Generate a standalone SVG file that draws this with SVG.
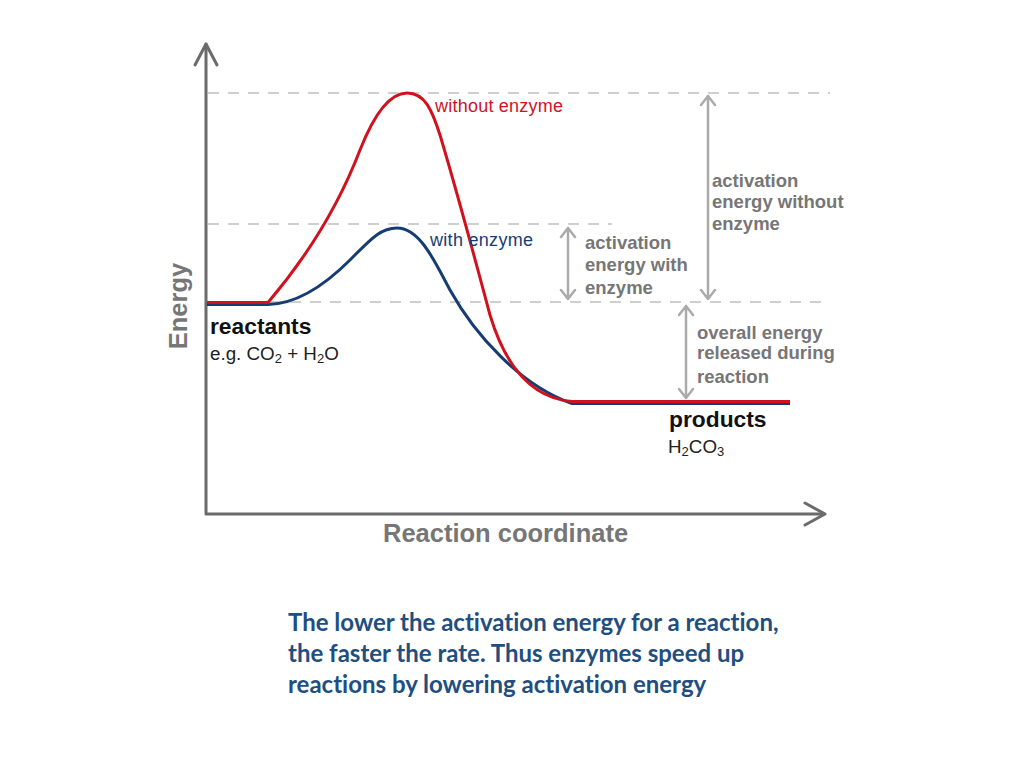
<svg xmlns="http://www.w3.org/2000/svg" width="1024" height="768" viewBox="0 0 1024 768">
<defs>
<style>
.axis{stroke:#6b6b6b;stroke-width:3;fill:none;stroke-linecap:round;stroke-linejoin:round}
.dash{stroke:#cfcfcf;stroke-width:2;stroke-dasharray:11 9;fill:none}
.dbl{stroke:#ababab;stroke-width:2.5;fill:none;stroke-linecap:round;stroke-linejoin:round}
.red{stroke:#d0121f;stroke-width:3;fill:none}
.blue{stroke:#163d73;stroke-width:3;fill:none}
.lab{font-family:"Liberation Sans",Arial,sans-serif}
.gray{fill:#767676;font-weight:bold;font-size:18.5px}
.ax{fill:#767676;font-weight:bold;font-size:25.5px}
.bk{fill:#111;font-weight:bold;font-size:22.8px}
.sm{fill:#222;font-size:18.8px}
.cap{font-family:Lato,"Noto Sans",sans-serif;font-weight:bold;font-size:24px;fill:#1f4e80;font-variant-ligatures:none}
</style>
</defs>
<rect width="1024" height="768" fill="#fff"/>
<g id="gridlines">
<path class="dash" d="M208,93 H830"/>
<path class="dash" d="M208,224 H612"/>
<path class="dash" d="M270,302 H830"/>
</g>
<g id="axes">
<path class="axis" d="M206,44 V514 H824"/>
<path class="axis" d="M195,65 L206,44 L217,65"/>
<path class="axis" d="M805,503 L825,514 L805,525"/>
</g>
<g id="connectors">
<path class="blue" d="M207,304.5 H268 C300,304 330,280 350,260 C370,240 380,228 397,228 C420,228 435,262 450,290 C475,335 520,385 572,403.5 H790"/>
<path class="red" d="M207,302.5 H268 C300,265 335,215 360,150 C375,112 390,93 407,93 C425,93 432,110 440,135 C455,185 478,270 490,315 C505,365 530,398 572,401.5 H790"/>
<path class="dbl" d="M568,228 V299 M561,237 L568,228 L575,237 M561,290 L568,299 L575,290"/>
<path class="dbl" d="M708,96 V299 M701,105 L708,96 L715,105 M701,290 L708,299 L715,290"/>
<path class="dbl" d="M686,306 V398 M679,315 L686,306 L693,315 M679,389 L686,398 L693,389"/>
</g>
<g id="without-enzyme"><text class="lab" x="435" y="112" fill="#d0121f" font-size="18" textLength="128">without enzyme</text></g>
<g id="with-enzyme"><text class="lab" x="430" y="246" fill="#163d73" font-size="18" textLength="103">with enzyme</text></g>
<g id="activation-with">
<text class="lab gray" x="585" y="249">activation</text>
<text class="lab gray" x="585" y="271">energy with</text>
<text class="lab gray" x="585" y="294">enzyme</text>
</g>
<g id="activation-without">
<text class="lab gray" x="712" y="187">activation</text>
<text class="lab gray" x="712" y="208">energy without</text>
<text class="lab gray" x="712" y="230">enzyme</text>
</g>
<g id="overall">
<text class="lab gray" x="697" y="339">overall energy</text>
<text class="lab gray" x="697" y="359">released during</text>
<text class="lab gray" x="697" y="383">reaction</text>
</g>
<g id="reactants">
<text class="lab bk" x="210" y="334">reactants</text>
<text class="lab sm" x="210" y="360">e.g. CO<tspan font-size="13" dy="3">2</tspan><tspan dy="-3"> + H</tspan><tspan font-size="13" dy="3">2</tspan><tspan dy="-3">O</tspan></text>
</g>
<g id="products">
<text class="lab bk" x="669" y="427">products</text>
<text class="lab sm" x="668" y="453">H<tspan font-size="13" dy="3">2</tspan><tspan dy="-3">CO</tspan><tspan font-size="13" dy="3">3</tspan></text>
</g>
<g id="axis-labels">
<text class="lab ax" transform="translate(187,306) rotate(-90)" text-anchor="middle">Energy</text>
<text class="lab ax" x="383" y="542">Reaction coordinate</text>
</g>
<g id="caption">
<text class="cap" x="288" y="631">The lower the activation energy for a reaction,</text>
<text class="cap" x="288" y="662">the faster the rate. Thus enzymes speed up</text>
<text class="cap" x="288" y="693">reactions by lowering activation energy</text>
</g>
</svg>
